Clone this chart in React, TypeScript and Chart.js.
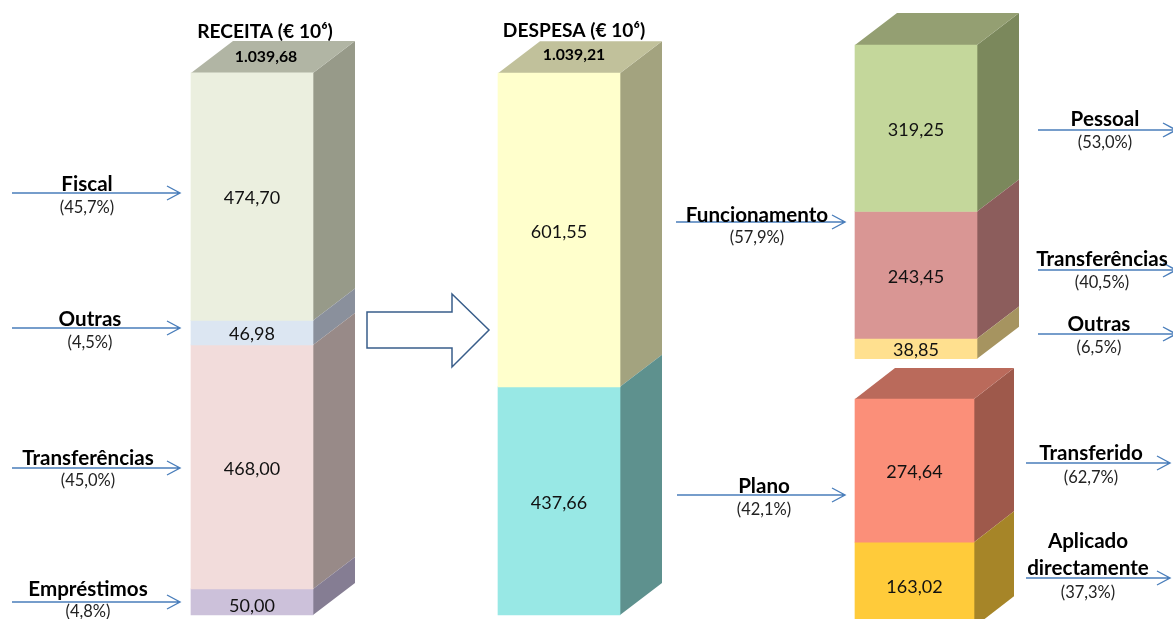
import React, { useEffect, useRef } from "react";
import { Chart, registerables } from "chart.js";

Chart.register(...registerables);

// ---- data (millions of euro) ----
const receitaNames = ["Fiscal", "Outras", "Transferências", "Empréstimos"];
const receitaValues = [474.7, 46.98, 468.0, 50.0];
const receitaShares = ["(45,7%)", "(4,5%)", "(45,0%)", "(4,8%)"];

const despesaNames = ["Funcionamento", "Plano"];
const despesaValues = [601.55, 437.66];
const despesaShares = ["(57,9%)", "(42,1%)"];

const funcionamentoNames = ["Pessoal", "Transferências", "Outras"];
const funcionamentoValues = [319.25, 243.45, 38.85];
const funcionamentoShares = ["(53,0%)", "(40,5%)", "(6,5%)"];

const planoNames = ["Transferido", "Aplicado\ndirectamente"];
const planoValues = [274.64, 163.02];
const planoShares = ["(62,7%)", "(37,3%)"];

const titles = ["RECEITA (€ 10⁶)", "DESPESA (€ 10⁶)"];
const totals = ["1.039,68", "1.039,21"];

// ---- layout ----
const W = 1173;
const H = 619;
const PX_PER_UNIT = 0.5214;
const ZERO_Y = 615;
const FONT = "Lato, 'Noto Sans', sans-serif";

type Col = {
  x: number; width: number; base: number; depth: number; rise: number;
  values: number[]; fronts: string[]; sides: string[]; top: string;
};
const columns: Col[] = [
  { x: 252, width: 122, base: 0, depth: 42, rise: 32, values: receitaValues,
    fronts: ["#EBEFDF", "#DCE6F2", "#F2DCDB", "#CCC1DA"],
    sides: ["#979A89", "#8A909C", "#988A88", "#857D93"], top: "#B1B5A4" },
  { x: 559, width: 122, base: 0, depth: 42, rise: 32, values: despesaValues,
    fronts: ["#FFFFCC", "#98E8E5"],
    sides: ["#A3A37F", "#5E918E"], top: "#C1C19B" },
  { x: 916, width: 122, base: 491.6, depth: 42, rise: 32, values: funcionamentoValues,
    fronts: ["#C4D79B", "#D99694", "#FFE08F"],
    sides: ["#7B885C", "#8C5D5C", "#A69460"], top: "#949F72" },
  { x: 914.5, width: 119, base: -23.4, depth: 40, rise: 31, values: planoValues,
    fronts: ["#FB8F79", "#FFCB3A"],
    sides: ["#9E594B", "#A68528"], top: "#BA6A5B" },
];

type Callout = { name: string; share: string; cx: number; ny: number; sy: number; a0: number; a1: number; ay: number };
const callout = (name: string, share: string, cx: number, ny: number, sy: number, a0: number, a1: number, ay: number): Callout =>
  ({ name, share, cx, ny, sy, a0, a1, ay });
const callouts: Callout[] = [
  callout(receitaNames[0], receitaShares[0], 87, 184, 208, 12, 180, 193),
  callout(receitaNames[1], receitaShares[1], 90, 319, 343, 12, 180, 328),
  callout(receitaNames[2], receitaShares[2], 88, 458, 481, 12, 180, 468),
  callout(receitaNames[3], receitaShares[3], 88, 589, 612, 12, 180, 602),
  callout(despesaNames[0], despesaShares[0], 757, 215, 238, 676, 845, 222),
  callout(despesaNames[1], despesaShares[1], 764, 486, 510, 677, 845, 495),
  callout(funcionamentoNames[0], funcionamentoShares[0], 1105, 119, 143, 1038, 1176, 130),
  callout(funcionamentoNames[1], funcionamentoShares[1], 1102, 259, 283, 1038, 1176, 270),
  callout(funcionamentoNames[2], funcionamentoShares[2], 1099, 324, 348, 1038, 1176, 334),
  callout(planoNames[0], planoShares[0], 1091, 453, 478, 1026, 1170, 463),
  callout(planoNames[1], planoShares[1], 1088, 568, 593, 1026, 1170, 578),
];

const fmt = (v: number) => v.toFixed(2).replace(".", ",");

const datasets: any[] = [];
columns.forEach((col, ci) => {
  let top = col.base + col.values.reduce((a, b) => a + b, 0);
  col.values.forEach((v, si) => {
    datasets.push({
      data: [{ x: col.x, y: [top - v, top] }],
      backgroundColor: col.fronts[si],
      borderWidth: 0,
      barThickness: col.width,
      grouped: false,
      colIndex: ci,
      segIndex: si,
      sideColor: col.sides[si],
      value: v,
    });
    top -= v;
  });
});

const text = (ctx: CanvasRenderingContext2D, s: string, x: number, y: number, size: number, bold: boolean, color = "#111") => {
  ctx.font = `${bold ? "700 " : ""}${size}px ${FONT}`;
  ctx.fillStyle = color;
  ctx.textAlign = "center";
  ctx.textBaseline = "middle";
  ctx.fillText(s, x, y);
};

const box3d = {
  id: "box3d",
  beforeDatasetsDraw(chart: any) {
    const ctx: CanvasRenderingContext2D = chart.ctx;
    chart.data.datasets.forEach((ds: any, i: number) => {
      const bar = chart.getDatasetMeta(i).data[0];
      const col = columns[ds.colIndex];
      const right = bar.x + bar.width / 2;
      const left = bar.x - bar.width / 2;
      const yTop = bar.y;
      const yBot = bar.base;
      ctx.fillStyle = ds.sideColor;
      ctx.beginPath();
      ctx.moveTo(right, yTop);
      ctx.lineTo(right + col.depth, yTop - col.rise);
      ctx.lineTo(right + col.depth, yBot - col.rise);
      ctx.lineTo(right, yBot);
      ctx.closePath();
      ctx.fill();
      if (ds.segIndex === 0) {
        ctx.fillStyle = col.top;
        ctx.beginPath();
        ctx.moveTo(left, yTop);
        ctx.lineTo(left + col.depth, yTop - col.rise);
        ctx.lineTo(right + col.depth, yTop - col.rise);
        ctx.lineTo(right, yTop);
        ctx.closePath();
        ctx.fill();
      }
    });
  },
  afterDatasetsDraw(chart: any) {
    const ctx: CanvasRenderingContext2D = chart.ctx;
    ctx.save();

    // value labels
    chart.data.datasets.forEach((ds: any, i: number) => {
      const bar = chart.getDatasetMeta(i).data[0];
      const small = ds.value === 50;
      text(ctx, fmt(ds.value), bar.x, (bar.y + bar.base) / 2 + (small ? 4 : 2), 18, false);
    });

    // headers
    text(ctx, titles[0], 265, 32, 19.2, true, "#000");
    text(ctx, titles[1], 574, 31, 19.2, true, "#000");
    text(ctx, totals[0], 266, 57, 15.8, true, "#000");
    text(ctx, totals[1], 574, 55, 15.8, true, "#000");

    // call-outs
    ctx.lineWidth = 1.4;
    ctx.strokeStyle = "#4A7EBB";
    callouts.forEach((c) => {
      ctx.beginPath();
      ctx.moveTo(c.a0, c.ay);
      ctx.lineTo(c.a1, c.ay);
      ctx.moveTo(c.a1 - 13, c.ay - 7);
      ctx.lineTo(c.a1, c.ay);
      ctx.lineTo(c.a1 - 13, c.ay + 7);
      ctx.stroke();
    });
    callouts.forEach((c) => {
      const parts = c.name.split("\n");
      parts.forEach((p, k) => {
        text(ctx, p, c.cx, c.ny - (parts.length - 1 - k) * 27, 20.6, true, "#000");
      });
      text(ctx, c.share, c.cx, c.sy, 16.5, false, "#222");
    });

    // big outline arrow
    ctx.strokeStyle = "#385D8A";
    ctx.lineWidth = 1.5;
    ctx.fillStyle = "#FFFFFF";
    ctx.beginPath();
    ctx.moveTo(367, 312);
    ctx.lineTo(452, 312);
    ctx.lineTo(452, 294);
    ctx.lineTo(489, 330);
    ctx.lineTo(452, 367);
    ctx.lineTo(452, 348);
    ctx.lineTo(367, 348);
    ctx.closePath();
    ctx.fill();
    ctx.stroke();
    ctx.restore();
  },
};

export default function App() {
  const ref = useRef<HTMLCanvasElement>(null);
  useEffect(() => {
    document.body.style.margin = "0";
    document.body.style.overflow = "hidden";
    const chart = new Chart(ref.current!, {
      type: "bar",
      data: { datasets },
      options: {
        animation: false,
        responsive: false,
        devicePixelRatio: 1,
        layout: { padding: 0 },
        plugins: { legend: { display: false }, tooltip: { enabled: false }, title: { display: false } },
        scales: {
          x: { type: "linear", min: 0, max: W, display: false, offset: false },
          y: { type: "linear", min: (ZERO_Y - H) / PX_PER_UNIT, max: ZERO_Y / PX_PER_UNIT, display: false, stacked: false },
        },
      },
      plugins: [box3d],
    } as any);
    return () => chart.destroy();
  }, []);
  return (
    <canvas
      ref={ref}
      width={W}
      height={H}
      style={{ display: "block", width: W, height: H, filter: "blur(0.4px)" }}
    />
  );
}
